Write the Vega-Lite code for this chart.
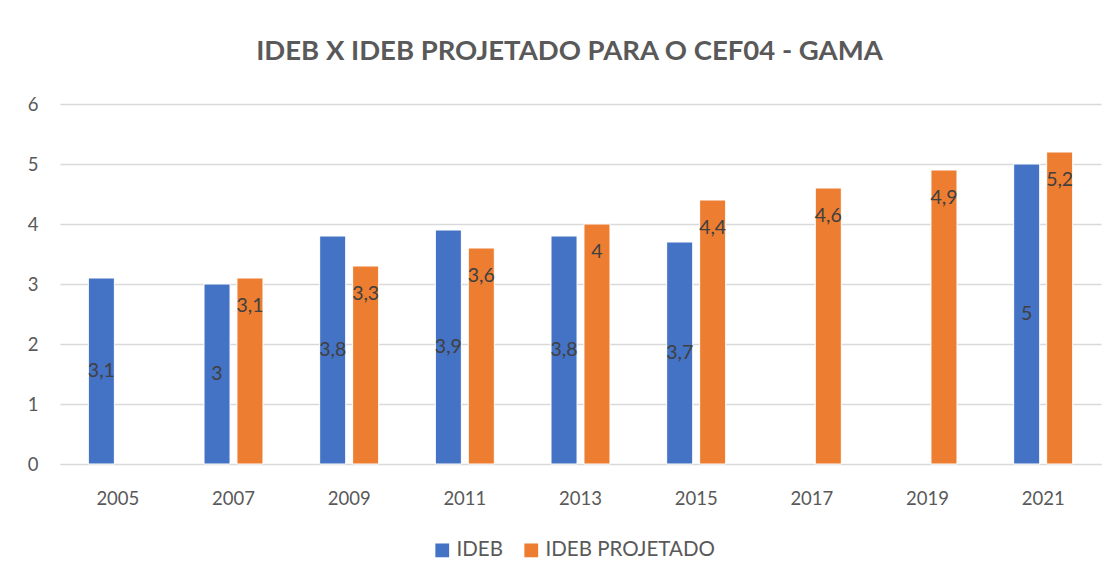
{
  "$schema": "https://vega.github.io/schema/vega-lite/v6.json",
  "width": 1041,
  "height": 360,
  "autosize": "none",
  "padding": {"left": 60, "top": 104, "right": 18, "bottom": 117},
  "background": "white",
  "config": {
    "font": "Lato",
    "view": {"stroke": null},
    "axisY": {
      "title": null,
      "values": [0, 1, 2, 3, 4, 5, 6],
      "domain": false,
      "ticks": false,
      "gridColor": "#D9D9D9",
      "gridWidth": 1.3,
      "labelFontSize": 18.5,
      "labelColor": "#595959",
      "labelPadding": 22
    },
    "locale": {"number": {"decimal": ",", "thousands": ".", "grouping": [3], "currency": ["R$", ""]}}
  },
  "title": {
    "text": "IDEB X IDEB PROJETADO PARA O CEF04 - GAMA",
    "fontSize": 27.5,
    "fontWeight": "bold",
    "color": "#595959",
    "font": "Lato",
    "anchor": "middle",
    "dx": -11,
    "offset": 30
  },
  "data": {
    "values": [
      {"ano": "2005", "serie": "IDEB", "valor": 3.1},
      {"ano": "2007", "serie": "IDEB", "valor": 3.0},
      {"ano": "2007", "serie": "IDEB PROJETADO", "valor": 3.1},
      {"ano": "2009", "serie": "IDEB", "valor": 3.8},
      {"ano": "2009", "serie": "IDEB PROJETADO", "valor": 3.3},
      {"ano": "2011", "serie": "IDEB", "valor": 3.9},
      {"ano": "2011", "serie": "IDEB PROJETADO", "valor": 3.6},
      {"ano": "2013", "serie": "IDEB", "valor": 3.8},
      {"ano": "2013", "serie": "IDEB PROJETADO", "valor": 4.0},
      {"ano": "2015", "serie": "IDEB", "valor": 3.7},
      {"ano": "2015", "serie": "IDEB PROJETADO", "valor": 4.4},
      {"ano": "2017", "serie": "IDEB PROJETADO", "valor": 4.6},
      {"ano": "2019", "serie": "IDEB PROJETADO", "valor": 4.9},
      {"ano": "2021", "serie": "IDEB", "valor": 5.0},
      {"ano": "2021", "serie": "IDEB PROJETADO", "valor": 5.2}
    ]
  },
  "encoding": {
    "x": {
      "field": "ano",
      "type": "nominal",
      "scale": {"paddingInner": 0.49, "paddingOuter": 0.245},
      "axis": {
        "title": null,
        "labelAngle": 0,
        "labelFontSize": 18.5,
        "labelColor": "#595959",
        "labelPadding": 25,
        "ticks": false,
        "domainColor": "#D9D9D9",
        "domainWidth": 1
      }
    },
    "xOffset": {
      "field": "serie",
      "type": "nominal",
      "scale": {"domain": ["IDEB", "IDEB PROJETADO"], "paddingInner": 0.21, "paddingOuter": 0}
    }
  },
  "layer": [
    {
      "mark": {"type": "bar", "stroke": "white", "strokeWidth": 1},
      "encoding": {
        "y": {
          "field": "valor",
          "type": "quantitative",
          "scale": {"domain": [0, 6]},
          "axis": {"title": null, "values": [0, 1, 2, 3, 4, 5, 6]}
        },
        "color": {
          "field": "serie",
          "type": "nominal",
          "scale": {"domain": ["IDEB", "IDEB PROJETADO"], "range": ["#4472C4", "#ED7D31"]},
          "legend": {
            "title": null,
            "orient": "none",
            "direction": "horizontal",
            "legendX": 372,
            "legendY": 436,
            "symbolType": "square",
            "symbolSize": 190,
            "symbolStrokeWidth": 0,
            "labelFontSize": 20.5,
            "labelLimit": 400,
            "labelColor": "#595959",
            "labelOffset": 4,
            "columnPadding": 18
          }
        }
      }
    },
    {
      "transform": [
        {"filter": "datum.serie === 'IDEB'"},
        {"calculate": "datum.valor / 2", "as": "meio"}
      ],
      "mark": {"type": "text", "fontSize": 19.5, "color": "#404040", "baseline": "middle", "align": "center"},
      "encoding": {
        "y": {"field": "meio", "type": "quantitative", "scale": {"domain": [0, 6]}, "axis": {"title": null, "values": [0, 1, 2, 3, 4, 5, 6]}},
        "text": {"field": "valor", "type": "quantitative", "format": ".1~f"}
      }
    },
    {
      "transform": [{"filter": "datum.serie === 'IDEB PROJETADO'"}],
      "mark": {"type": "text", "fontSize": 19.5, "color": "#404040", "baseline": "middle", "align": "center", "dy": 28},
      "encoding": {
        "y": {"field": "valor", "type": "quantitative", "scale": {"domain": [0, 6]}, "axis": {"title": null, "values": [0, 1, 2, 3, 4, 5, 6]}},
        "text": {"field": "valor", "type": "quantitative", "format": ".1~f"}
      }
    }
  ]
}
